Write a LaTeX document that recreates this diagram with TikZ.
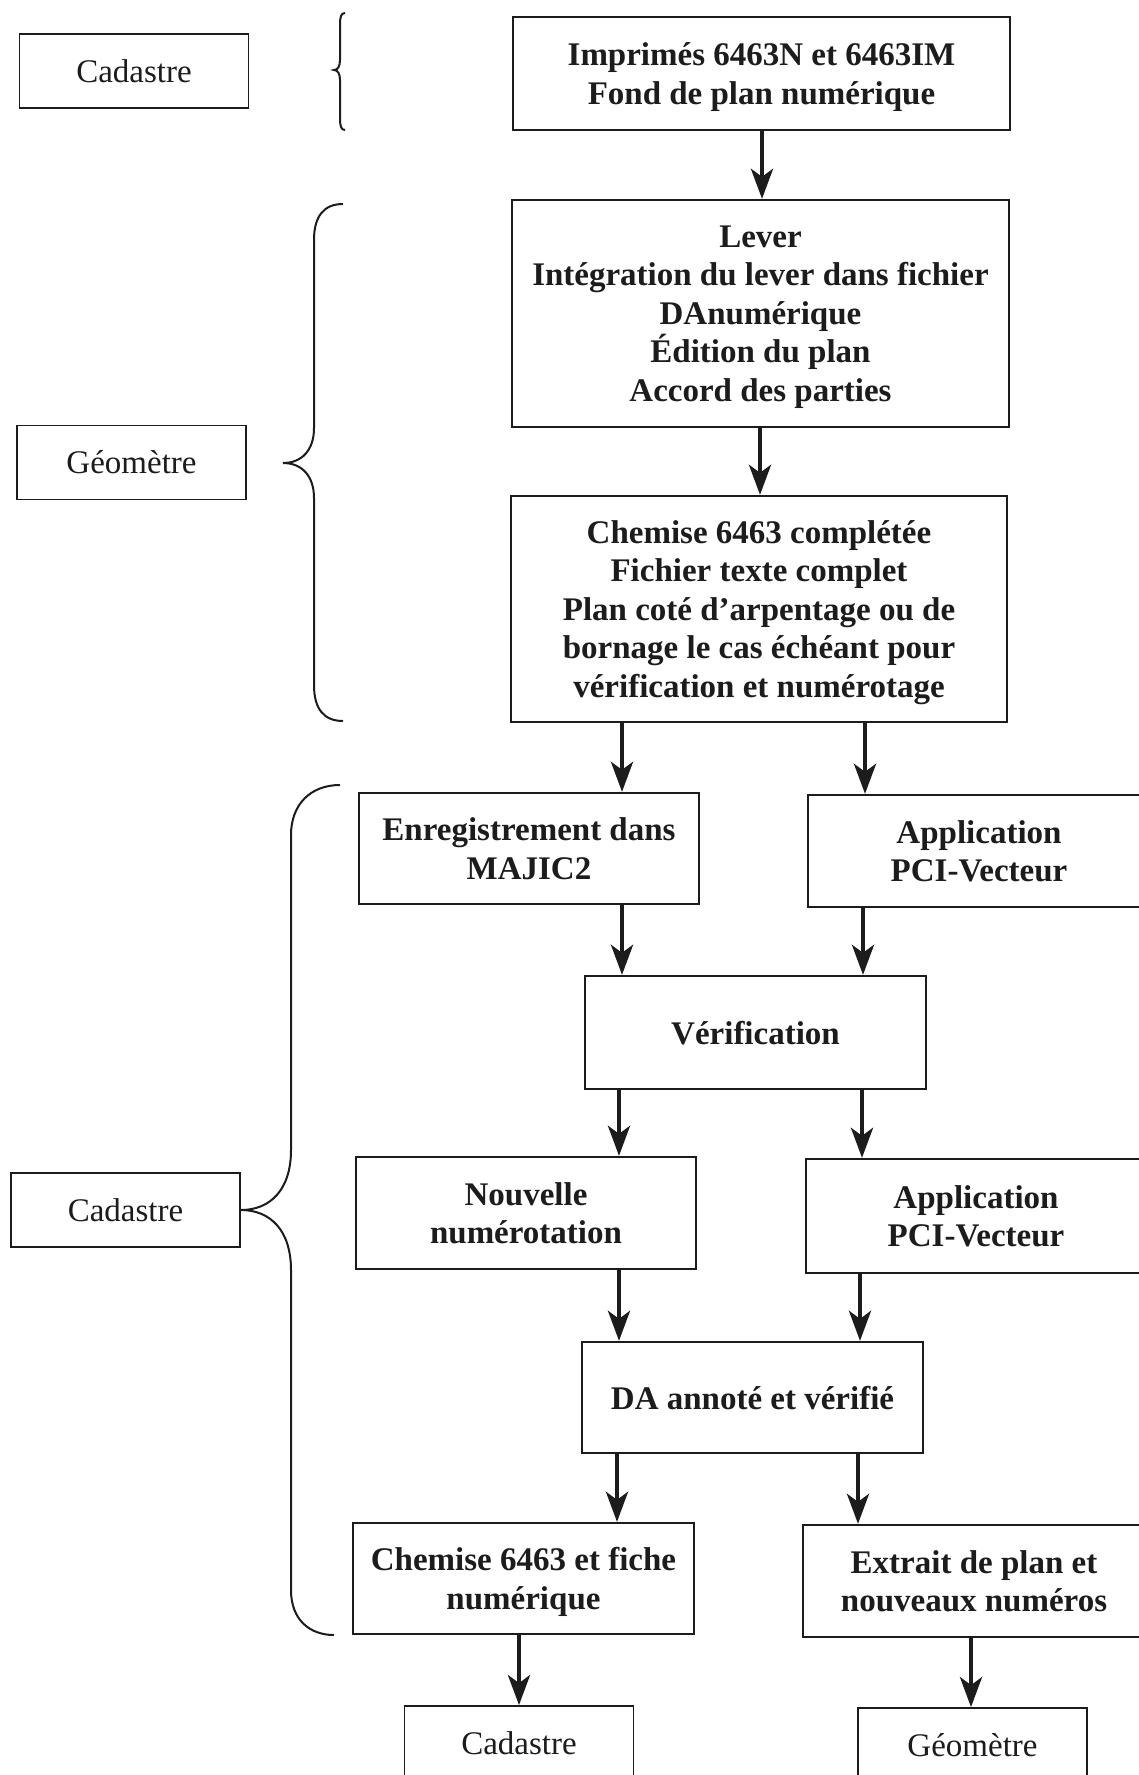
\documentclass[tikz,border=0pt]{standalone}
\usepackage{fontspec}
\setmainfont{Liberation Serif}
\usetikzlibrary{arrows.meta}
\definecolor{ink}{HTML}{1C1C1C}

\begin{document}
\begin{tikzpicture}[x=1pt,y=-1pt,
  txt/.style={font=\fontsize{33}{38.5}\selectfont, text=ink},
  stepbox/.style={txt, draw=ink, line width=2.3pt, font=\fontsize{33}{38.5}\selectfont\bfseries,
                  align=center, inner sep=0pt, text depth=0pt},
  rolebox/.style={txt, draw=ink, line width=1.8pt, inner sep=0pt,
                  minimum width=229pt, minimum height=74pt},
  arr/.style={draw=ink, line width=4.2pt, -{Stealth[length=30pt,width=22pt,inset=8pt]}},
  brace/.style={draw=ink, line width=2pt},
]
\useasboundingbox (0,0) rectangle (1139,1775);
\fill[white] (0,0) rectangle (1139,1775);

% actors
\node[rolebox] (cad1) at (134,71) {Cadastre};
\node[rolebox] (geo1) at (131.5,462.5) {Géomètre};
\node[rolebox] (cad2) at (125.5,1210) {Cadastre};
\node[rolebox] (cad3) at (519,1743) {Cadastre};
\node[rolebox] (geo3) at (972.5,1745) {Géomètre};

% process steps
\node[stepbox, minimum width=497pt, minimum height=113pt] (b1) at (761.5,73.5)
  {Imprimés 6463N et 6463IM\\Fond de plan numérique};
\node[stepbox, minimum width=497pt, minimum height=227pt] (b2) at (760.5,313.5)
  {Lever\\Intégration du lever dans fichier\\DAnumérique\\Édition du plan\\Accord des parties};
\node[stepbox, minimum width=496pt, minimum height=226pt] (b3) at (759,609)
  {Chemise 6463 complétée\\Fichier texte complet\\Plan coté d’arpentage ou de\\bornage le cas échéant pour\\vérification et numérotage};
\node[stepbox, minimum width=340pt, minimum height=111pt] (enr) at (529,848.5)
  {Enregistrement dans\\MAJIC2};
\node[stepbox, minimum width=342pt, minimum height=112pt] (app1) at (979,851)
  {Application\\PCI-Vecteur};
\node[stepbox, minimum width=341pt, minimum height=113pt] (ver) at (755.5,1032.5)
  {Vérification};
\node[stepbox, minimum width=340pt, minimum height=112pt] (nou) at (526,1213)
  {Nouvelle\\numérotation};
\node[stepbox, minimum width=340pt, minimum height=114pt] (app2) at (976,1216)
  {Application\\PCI-Vecteur};
\node[stepbox, minimum width=341pt, minimum height=111pt] (da) at (752.5,1397.5)
  {DA annoté et vérifié};
\node[stepbox, minimum width=341pt, minimum height=111pt] (che) at (523.5,1578.5)
  {Chemise 6463 et fiche\\numérique};
\node[stepbox, minimum width=342pt, minimum height=112pt] (ext) at (974,1581)
  {Extrait de plan et\\nouveaux numéros};

% flow
\draw[arr] (b1.south -| 762,0) -- (b2.north -| 762,0);
\draw[arr] (b2.south -| 760,0) -- (b3.north -| 760,0);
\draw[arr] (b3.south -| 622,0) -- (enr.north -| 622,0);
\draw[arr] (b3.south -| 865,0) -- (app1.north -| 865,0);
\draw[arr] (enr.south -| 622,0) -- (ver.north -| 622,0);
\draw[arr] (app1.south -| 863,0) -- (ver.north -| 863,0);
\draw[arr] (ver.south -| 619,0) -- (nou.north -| 619,0);
\draw[arr] (ver.south -| 862,0) -- (app2.north -| 862,0);
\draw[arr] (nou.south -| 619,0) -- (da.north -| 619,0);
\draw[arr] (app2.south -| 860,0) -- (da.north -| 860,0);
\draw[arr] (da.south -| 617,0) -- (che.north -| 617,0);
\draw[arr] (da.south -| 858,0) -- (ext.north -| 858,0);
\draw[arr] (che.south -| 519,0) -- (cad3.north -| 519,0);
\draw[arr] (ext.south -| 971,0) -- (geo3.north -| 971,0);

% braces grouping the steps by actor
\draw[brace] (345,13) .. controls (341,13) and (340,17) .. (340,25) -- (340,60)
  .. controls (340,66) and (338,70) .. (334,70)
  .. controls (338,70) and (340,74) .. (340,80) -- (340,118)
  .. controls (340,126) and (341,130) .. (345,130);
\draw[brace] (343,204) .. controls (324,204) and (314,216) .. (314,240) -- (314,428)
  .. controls (314,450) and (302,463) .. (283,463)
  .. controls (302,463) and (314,476) .. (314,498) -- (314,685)
  .. controls (314,709) and (324,721) .. (343,721);
\draw[brace] (340,785) .. controls (310,785) and (291,805) .. (291,835) -- (291,1150)
  .. controls (291,1190) and (270,1210) .. (cad2.east)
  .. controls (270,1210) and (291,1230) .. (291,1270) -- (291,1590)
  .. controls (291,1620) and (310,1635) .. (334,1635);
\end{tikzpicture}
\end{document}
